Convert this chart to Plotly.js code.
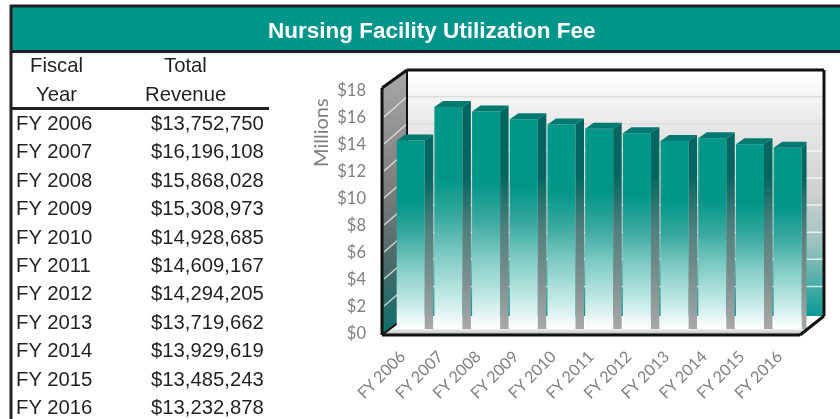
<!DOCTYPE html>
<html>
<head>
<meta charset="utf-8">
<script src="https://cdn.plot.ly/plotly-3.0.1.min.js"></script>
<style>html,body{margin:0;padding:0;background:#fff;overflow:hidden}#c{width:840px;height:419px;filter:blur(0.35px)}</style>
</head>
<body>
<div id="c"></div>
<script>
const categories = ["FY 2006","FY 2007","FY 2008","FY 2009","FY 2010","FY 2011","FY 2012","FY 2013","FY 2014","FY 2015","FY 2016"];
const revenue = [13752750,16196108,15868028,15308973,14928685,14609167,14294205,13719662,13929619,13485243,13232878];
const yTicks = [0,2,4,6,8,10,12,14,16,18];
const yTickText = ["$0","$2","$4","$6","$8","$10","$12","$14","$16","$18"];
const tableHeaders = [["Fiscal","Total"],["Year","Revenue"]];
const titleText = "Nursing Facility Utilization Fee";
const yTitle = "Millions";

const W = 840, H = 419;
const px = x => x / W, py = y => 1 - y / H;
const poly = pts => "M" + pts.map(p => px(p[0]) + "," + py(p[1])).join("L") + "Z";

const millions = revenue.map(v => v / 1e6);
const idx = categories.map((_, i) => i);
const barW = 0.743, dx = 0.225, dy = 0.44;

const sideX = [], sideY = [], topX = [], topY = [];
idx.forEach(i => {
  const r = i + barW / 2, l = i - barW / 2, v = millions[i];
  sideX.push(r, r + dx, r + dx, r, r, null);
  sideY.push(v, v + dy, 0, 0, v, null);
  topX.push(l, l + dx, r + dx, r, l, null);
  topY.push(v, v + dy, v + dy, v, v, null);
});

const traces = [
  {type:"bar", x:idx, y:millions, width:barW, marker:{color:"#009688", line:{width:0}}, hoverinfo:"skip"},
  {type:"scatter", mode:"lines", x:sideX, y:sideY, fill:"toself", fillcolor:"#00665f", line:{width:0}, hoverinfo:"skip"},
  {type:"scatter", mode:"lines", x:topX, y:topY, fill:"toself", fillcolor:"#007a70", line:{width:0}, hoverinfo:"skip"},
  {type:"scatter", mode:"lines", x:[0,0], y:[0,18], yaxis:"y2", opacity:0, line:{width:0}, hoverinfo:"skip"}
];

const shapes = [];
const floorShape = {type:"path", xref:"paper", yref:"paper", layer:"below", path:poly([[382,335],[407,316],[825,316],[800,335]]), fillcolor:"#fff", line:{width:0}};
const backWall = {type:"path", xref:"paper", yref:"paper", layer:"below", path:poly([[407,70],[824,70],[824,316],[407,316]]), fillcolor:"#eee", line:{width:0}};
const leftWall = {type:"path", xref:"paper", yref:"paper", layer:"below", path:poly([[382,88],[407,70],[407,316],[382,335]]), fillcolor:"#888", line:{width:0}};
shapes.push(backWall, floorShape, leftWall);
yTicks.forEach(v => {
  if (v === 0 || v === 18) return;
  const yb = 313.5 - 13.55 * v, yf = 333 - 13.5 * v;
  shapes.push({type:"line", xref:"paper", yref:"paper", layer:"below", x0:px(407), x1:px(824), y0:py(yb), y1:py(yb),
    line:{color: v >= 14 ? "#dcdcdc" : "rgba(255,255,255,0.75)", width:1.5}});
  shapes.push({type:"line", xref:"paper", yref:"paper", layer:"below", x0:px(384), x1:px(407), y0:py(yf), y1:py(yb),
    line:{color:"rgba(235,235,235,0.8)", width:1.5}});
});
const dark = "#111";
[[382,88,407,70],[407,70,824,70],[824,70,824,316],[824,316,800,335],[800,335,382,335],[382,335,382,88],[407,70,407,316],[382,335,407,316]].forEach((s,k) => {
  shapes.push({type:"line", xref:"paper", yref:"paper", layer: k===6||k===7 ? "below":"above", x0:px(s[0]), y0:py(s[1]), x1:px(s[2]), y1:py(s[3]),
    line:{color:dark, width: k===6||k===7 ? 2 : 3}});
});
shapes.push({type:"rect", xref:"paper", yref:"paper", layer:"below", x0:px(11), x1:1, y0:py(51), y1:py(7), fillcolor:"#00958b", line:{width:0}});
[[10,6,840,6,3],[10,51.5,840,51.5,3],[11,5,11,419,3],[12,108.5,269,108.5,3]].forEach(s => {
  shapes.push({type:"line", xref:"paper", yref:"paper", layer:"above", x0:px(s[0]), y0:py(s[1]), x1:px(s[2]), y1:py(s[3]), line:{color:"#231f20", width:s[4]}});
});

const tableFont = {family:"Liberation Sans, Arial, sans-serif", size:20.3, color:"#231f20"};
const note = (x,y,text,xanchor,font,extra) => Object.assign({xref:"paper", yref:"paper", x:px(x), y:py(y), text, xanchor, yanchor:"middle", showarrow:false, font, borderpad:0}, extra||{});
const annotations = [
  note(432,31,titleText,"center",{family:"Liberation Sans, Arial, sans-serif", size:22.5, color:"#fff", weight:700}),
  note(56,65.5,tableHeaders[0][0],"center",tableFont),
  note(185,65.5,tableHeaders[0][1],"center",tableFont),
  note(56,94,tableHeaders[1][0],"center",tableFont),
  note(185,94,tableHeaders[1][1],"center",tableFont),
  note(320,133,yTitle,"center",{family:"Lato, sans-serif", size:20, color:"#7f7f7f"},{textangle:-90})
];
idx.forEach(i => {
  const y = 123 + 28.4 * i;
  annotations.push(note(15,y,categories[i],"left",tableFont));
  annotations.push(note(264.5,y,"$" + revenue[i].toLocaleString("en-US"),"right",tableFont));
});

const layout = {
  width:W, height:H, margin:{l:0,r:0,t:0,b:0}, paper_bgcolor:"#fff", plot_bgcolor:"rgba(0,0,0,0)", showlegend:false,
  xaxis:{domain:[391.85/W,806.55/W], range:[-0.5,10.5], tickmode:"array", tickvals:idx, ticktext:categories, tickangle:-45,
    ticks:"", showgrid:false, zeroline:false, showline:false, anchor:"y", ticklabelstandoff:14, ticklabelshift:-10,
    tickfont:{family:"Lato, sans-serif", size:16, color:"#7f7f7f"}},
  yaxis:{domain:[py(329),py(70)], range:[0,(329-70)/13.7], showticklabels:false, ticks:"", showgrid:false, zeroline:false, showline:false},
  yaxis2:{domain:[py(333),py(90)], range:[0,18], anchor:"free", position:366/W, side:"left", tickmode:"array", tickvals:yTicks, ticktext:yTickText,
    ticks:"", showgrid:false, zeroline:false, showline:false, tickfont:{family:"Lato, sans-serif", size:16.5, color:"#7f7f7f"}},
  shapes, annotations
};

const gd = document.getElementById("c");
Plotly.newPlot(gd, traces, layout, {staticPlot:true, displayModeBar:false}).then(() => {
  const svg = gd.querySelector("svg.main-svg");
  const NS = "http://www.w3.org/2000/svg";
  const defs = svg.querySelector("defs") || svg.insertBefore(document.createElementNS(NS,"defs"), svg.firstChild);
  const grad = (id, stops) => {
    const g = document.createElementNS(NS,"linearGradient");
    g.setAttribute("id",id); g.setAttribute("x1",0); g.setAttribute("y1",0); g.setAttribute("x2",0); g.setAttribute("y2",1);
    stops.forEach(s => { const st = document.createElementNS(NS,"stop"); st.setAttribute("offset",s[0]); st.setAttribute("stop-color",s[1]); g.appendChild(st); });
    defs.appendChild(g);
    return "url(#" + id + ")";
  };
  const front = grad("gFront",[[0,"#009688"],[0.32,"#009688"],[0.5,"#3aa99f"],[0.66,"#7ccac3"],[0.85,"#c0e8e4"],[1,"#ffffff"]]);
  const side = grad("gSide",[[0,"#00665f"],[0.32,"#00665f"],[0.55,"#4c7f7c"],[0.78,"#7b8f8e"],[1,"#a8a8a8"]]);
  const back = grad("gBack",[[0,"#ffffff"],[0.25,"#e6e6e6"],[0.5,"#cfcfcf"],[0.7,"#9cc4c0"],[1,"#0b9a92"]]);
  const left = grad("gLeft",[[0,"#a8a8a8"],[0.45,"#7c7c7c"],[0.72,"#4c6a68"],[1,"#0a6f6b"]]);
  const flr = grad("gFloor",[[0,"#ffffff"],[0.6,"#ffffff"],[1,"#b4b4b4"]]);
  gd.querySelectorAll(".bars .point path").forEach(p => { p.style.fill = front; });
  const fills = gd.querySelectorAll(".scatterlayer .trace path.js-fill");
  if (fills[0]) fills[0].style.fill = side;
  const below = gd.querySelectorAll(".layer-below .shapelayer path");
  if (below[0]) below[0].style.fill = back;
  if (below[1]) below[1].style.fill = flr;
  if (below[2]) below[2].style.fill = left;
});
</script>
</body>
</html>
